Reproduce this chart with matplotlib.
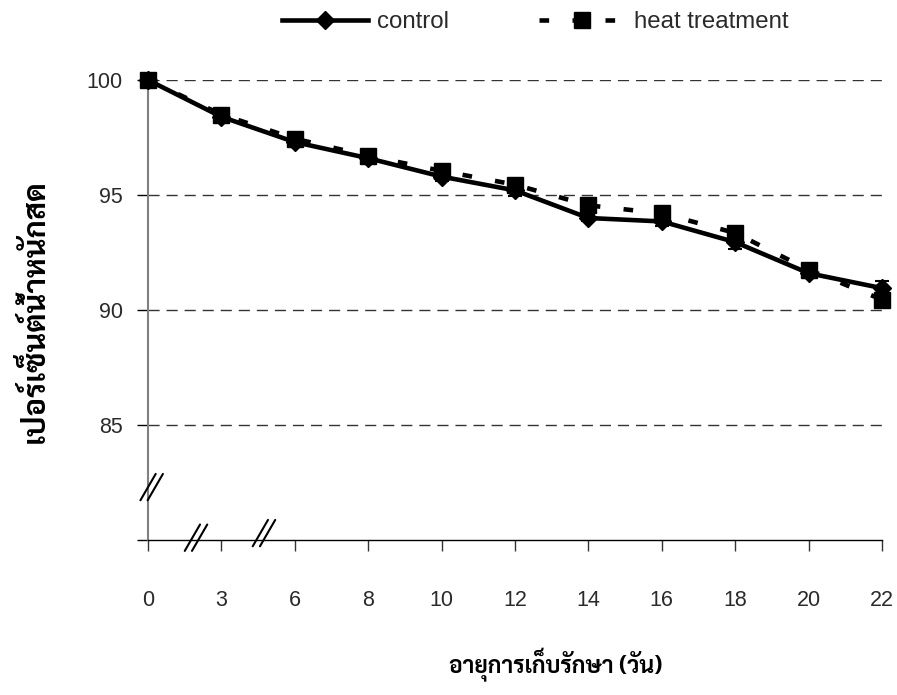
import matplotlib
matplotlib.use('Agg')
import matplotlib.pyplot as plt
from matplotlib import font_manager as fm
from matplotlib.lines import Line2D
from matplotlib.transforms import offset_copy

# data
days = ['0', '3', '6', '8', '10', '12', '14', '16', '18', '20', '22']
control = [100.0, 98.4, 97.3, 96.6, 95.8, 95.2, 94.0, 93.85, 92.95, 91.6, 90.95]
control_err = [0.0, 0.1, 0.15, 0.15, 0.2, 0.25, 0.15, 0.2, 0.3, 0.2, 0.3]
heat = [100.0, 98.5, 97.45, 96.7, 96.05, 95.45, 94.55, 94.2, 93.35, 91.75, 90.45]
heat_err = [0.0, 0.1, 0.1, 0.1, 0.15, 0.2, 0.2, 0.2, 0.2, 0.2, 0.2]
yticks = [80, 85, 90, 95, 100]
ytick_labels = ['', '85', '90', '95', '100']
xlabel = 'อายุการเก็บรักษา (วัน)'
ylabel = 'เปอร์เซ็นต์น้ำหนักสด'

# pick a Thai font that has a bold face
bold_names = set(f.name for f in fm.fontManager.ttflist if f.weight in (700, 'bold'))
thai = 'DejaVu Sans'
for n in ['Noto Sans Thai Looped', 'Sarabun', 'Noto Sans Thai', 'Loma', 'Garuda',
          'Tlwg Typo', 'Bai Jamjuree', 'Anuphan']:
    if n in bold_names:
        thai = n
        break

plt.rcParams['font.family'] = ['Liberation Sans', 'DejaVu Sans']
tcol = '#2a2a2a'

fig = plt.figure(figsize=(8.97, 6.95), dpi=100)
ax = fig.add_axes([148/897, 155/695, 734/897, 460/695])
x = list(range(len(days)))

ctl_style = dict(color='black', lw=3.3, marker='D', ms=9.5)
heat_style = dict(color='black', lw=3.3, ls=(0, (2.1, 5.1)), marker='s', ms=12)
eb = dict(capsize=5, elinewidth=1.5, capthick=1.5, clip_on=False)

ax.errorbar(x, control, yerr=control_err, zorder=3, **ctl_style, **eb)
ax.errorbar(x, heat, yerr=heat_err, zorder=4, **heat_style, **eb)

ax.set_xlim(0, len(days) - 1)
ax.set_ylim(80, 100)
ax.set_xticks(x)
ax.set_xticklabels(days)
ax.set_yticks(yticks)
ax.set_yticklabels(ytick_labels)
for v in yticks[1:]:
    ax.axhline(v, color='#333333', lw=1, ls=(0, (8, 5)), zorder=1)

for s in ['top', 'right']:
    ax.spines[s].set_visible(False)
ax.spines['left'].set_color('#808080')
ax.spines['left'].set_linewidth(1.5)
ax.spines['bottom'].set_color('black')
ax.spines['bottom'].set_linewidth(1)
ax.tick_params(axis='x', direction='out', length=8, width=1, pad=28,
               labelsize=15.5, labelcolor=tcol, color='#333333')
ax.tick_params(axis='y', direction='out', length=8, width=1, pad=10,
               labelsize=15.5, labelcolor=tcol, color='black')

# axis break marks "//"
for xc, yc in [(0.05, 82.3), (0.654, 80.1), (1.58, 80.3)]:
    for dx in (-2.6, 2.6):
        ax.annotate('', xy=(xc, yc),
                    xycoords=offset_copy(ax.transData, fig=fig, x=dx + 5.5, y=9.5, units='points'),
                    xytext=(xc, yc),
                    textcoords=offset_copy(ax.transData, fig=fig, x=dx - 5.5, y=-9.5, units='points'),
                    arrowprops=dict(arrowstyle='-', color='black', lw=1.5, shrinkA=0, shrinkB=0),
                    annotation_clip=False)

fig.text(556/897, 1 - 673/695, xlabel, family=[thai, 'DejaVu Sans'], fontsize=16.5,
         fontweight='bold', ha='center', va='baseline', color='black')
fig.text(35/897, 1 - 311/695, ylabel, family=[thai, 'DejaVu Sans'], fontsize=22,
         fontweight='bold', ha='center', va='center', rotation=90, color='black')

handles = [Line2D([], [], **ctl_style), Line2D([], [], **heat_style)]
fig.legend(handles, ['control', 'heat treatment'], loc='center',
           bbox_to_anchor=(535/897, 1 - 22/695), ncol=2, frameon=False,
           fontsize=17.3, handlelength=3.6, handletextpad=0.35,
           columnspacing=3.75, labelcolor=tcol)

fig.savefig('out.png', dpi=100)
